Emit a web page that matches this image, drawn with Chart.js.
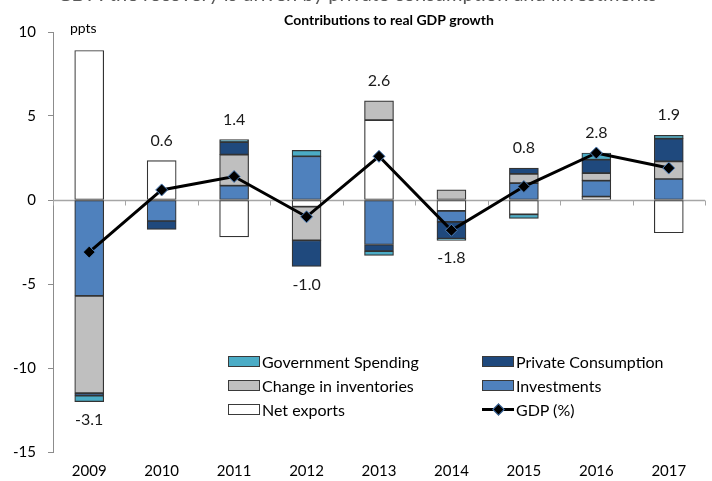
<!DOCTYPE html>
<html lang="en">
<head>
<meta charset="UTF-8">
<title>Contributions to real GDP growth</title>
<style>
  html, body { margin: 0; padding: 0; background: #fff; }
  .wrap { position: relative; width: 712px; height: 481px; overflow: hidden; }
  .headline {
    position: absolute; left: 57px; top: -19px;
    font: 20px Lato, sans-serif; color: #595959; white-space: nowrap;
  }
  .legend {
    position: absolute; left: 228px; top: 351px;
    display: grid; grid-template-columns: 254px 200px; row-gap: 4px;
    font: 16px Lato, sans-serif; color: #000;
  }
  .legend .item { display: flex; align-items: center; height: 20px; }
  .legend .swatch {
    width: 32px; height: 11px; box-sizing: border-box;
    border: 1.5px solid #3a3a3a; margin-right: 2px;
  }
  .legend .lineswatch { position: relative; width: 32px; height: 12px; margin-right: 2px; }
  .legend .lineswatch::before {
    content: ""; position: absolute; left: 0; right: 0; top: 4.5px; height: 3px; background: #000;
  }
  .legend .lineswatch .dot {
    position: absolute; left: 12px; top: 2px; width: 7px; height: 7px;
    background: #000; border: 1px solid #4f81bd; transform: rotate(45deg);
  }
</style>
</head>
<body>
<div class="wrap">
  <div class="headline">GDP: the recovery is driven by private consumption and investments</div>
  <canvas id="gdpChart" width="712" height="481"></canvas>
  <div class="legend" id="legend"></div>
</div>
<script src="https://cdn.jsdelivr.net/npm/chart.js@4.4.0/dist/chart.umd.min.js"></script>
<script>
  // contributions in percentage points
  const years = ['2009', '2010', '2011', '2012', '2013', '2014', '2015', '2016', '2017'];
  const netExports = [8.9, 2.35, -2.2, -0.4, 4.75, -0.65, -0.85, 0.2, -1.95];
  const investments = [-5.7, -1.25, 0.85, 2.6, -2.65, -0.65, 1.0, 0.95, 1.25];
  const inventories = [-5.8, 0, 1.85, -2.0, 1.15, 0.6, 0.55, 0.45, 1.05];
  const privateConsumption = [-0.15, -0.5, 0.75, -1.55, -0.4, -1.0, 0.35, 0.8, 1.35];
  const governmentSpending = [-0.35, 0, 0.15, 0.35, -0.25, -0.1, -0.25, 0.4, 0.2];
  const gdp = [-3.1, 0.6, 1.4, -1.0, 2.6, -1.8, 0.8, 2.8, 1.9];
  const yTicks = [-15, -10, -5, 0, 5, 10];

  const FONT = 'Lato, sans-serif';
  const EDGE = '#333333';
  const AXIS = '#8c8c8c';

  function barSet(label, values, color) {
    return {
      type: 'bar',
      label: label,
      data: values.map(v => v === 0 ? null : v),
      backgroundColor: color,
      borderColor: EDGE,
      borderWidth: 1.2,
      borderSkipped: false,
      stack: 'parts',
      order: 1
    };
  }

  const datasets = [
    barSet('Net exports', netExports, '#ffffff'),
    barSet('Investments', investments, '#4f81bd'),
    barSet('Change in inventories', inventories, '#bfbfbf'),
    barSet('Private Consumption', privateConsumption, '#1f497d'),
    barSet('Government Spending', governmentSpending, '#4bacc6'),
    {
      type: 'line',
      label: 'GDP (%)',
      data: gdp,
      borderColor: '#000',
      borderWidth: 3,
      pointStyle: 'rectRot',
      pointRadius: 6,
      pointBackgroundColor: '#000',
      pointBorderColor: '#4f81bd',
      pointBorderWidth: 1,
      stack: 'gdp',
      order: 0
    }
  ];
  const legendOrder = [4, 3, 2, 1, 0, 5];

  // zero line with category dividers, hanging ticks
  const zeroAxis = {
    id: 'zeroAxis',
    beforeDatasetsDraw(chart) {
      const { ctx, chartArea, scales } = chart;
      const y0 = Math.round(scales.y.getPixelForValue(0)) + 0.5;
      const step = scales.x.getPixelForValue(1) - scales.x.getPixelForValue(0);
      ctx.save();
      ctx.strokeStyle = '#a6a6a6';
      ctx.lineWidth = 1.5;
      ctx.beginPath();
      ctx.moveTo(chartArea.left, y0);
      ctx.lineTo(chartArea.right, y0);
      ctx.stroke();
      ctx.lineWidth = 1;
      ctx.beginPath();
      for (let i = 0; i <= years.length; i++) {
        const x = Math.round(scales.x.getPixelForValue(0) - step / 2 + i * step) + 0.5;
        ctx.moveTo(x, y0);
        ctx.lineTo(x, y0 + 5);
      }
      ctx.stroke();
      ctx.restore();
    }
  };

  // GDP value written past the end of each stack, plus headings
  const gdpLabels = {
    id: 'gdpLabels',
    afterDatasetsDraw(chart) {
      const { ctx, scales } = chart;
      ctx.save();
      ctx.font = '16px ' + FONT;
      ctx.fillStyle = '#1a1a1a';
      ctx.textAlign = 'center';
      ctx.textBaseline = 'middle';
      gdp.forEach((g, i) => {
        let pos = 0, neg = 0;
        chart.data.datasets.forEach(ds => {
          if (ds.type !== 'bar') return;
          const v = ds.data[i] || 0;
          if (v > 0) pos += v; else neg += v;
        });
        const x = scales.x.getPixelForValue(i);
        const y = g >= 0 ? scales.y.getPixelForValue(pos) - 20 : scales.y.getPixelForValue(neg) + 18;
        ctx.fillText(g.toFixed(1), x, y);
      });

      ctx.font = 'bold 14px ' + FONT;
      ctx.fillStyle = '#000';
      ctx.fillText('Contributions to real GDP growth', 389, 20);
      ctx.font = '14px ' + FONT;
      ctx.textAlign = 'left';
      ctx.fillText('ppts', 70, 28);
      ctx.restore();
    }
  };

  const chart = new Chart(document.getElementById('gdpChart'), {
    data: { labels: years, datasets: datasets },
    options: {
      responsive: false,
      animation: false,
      layout: { padding: { top: 32, right: 6, left: 0, bottom: 0 } },
      plugins: { legend: { display: false }, tooltip: { enabled: false } },
      scales: {
        x: {
          stacked: true,
          grid: { display: false, drawTicks: false },
          border: { display: false },
          ticks: { font: { family: FONT, size: 15 }, color: '#000', padding: 10, maxRotation: 0 },
          afterFit(s) { s.height = 29; }
        },
        y: {
          stacked: true,
          min: yTicks[0],
          max: yTicks[yTicks.length - 1],
          afterBuildTicks(s) { s.ticks = yTicks.map(v => ({ value: v })); },
          ticks: { font: { family: FONT, size: 15 }, color: '#000', padding: 12 },
          grid: { drawOnChartArea: false, tickLength: 5, color: AXIS },
          border: { color: AXIS },
          afterFit(s) { s.width = 53; }
        }
      },
      datasets: { bar: { barThickness: 29 } }
    },
    plugins: [zeroAxis, gdpLabels]
  });

  // legend laid out in two columns over the lower plot area
  const legendEl = document.getElementById('legend');
  legendOrder.forEach(idx => {
    const ds = chart.data.datasets[idx];
    const item = document.createElement('div');
    item.className = 'item';
    const mark = document.createElement('span');
    if (ds.type === 'line') {
      mark.className = 'lineswatch';
      const dot = document.createElement('span');
      dot.className = 'dot';
      mark.appendChild(dot);
    } else {
      mark.className = 'swatch';
      mark.style.background = ds.backgroundColor;
    }
    item.appendChild(mark);
    item.appendChild(document.createTextNode(ds.label));
    legendEl.appendChild(item);
  });
</script>
</body>
</html>
